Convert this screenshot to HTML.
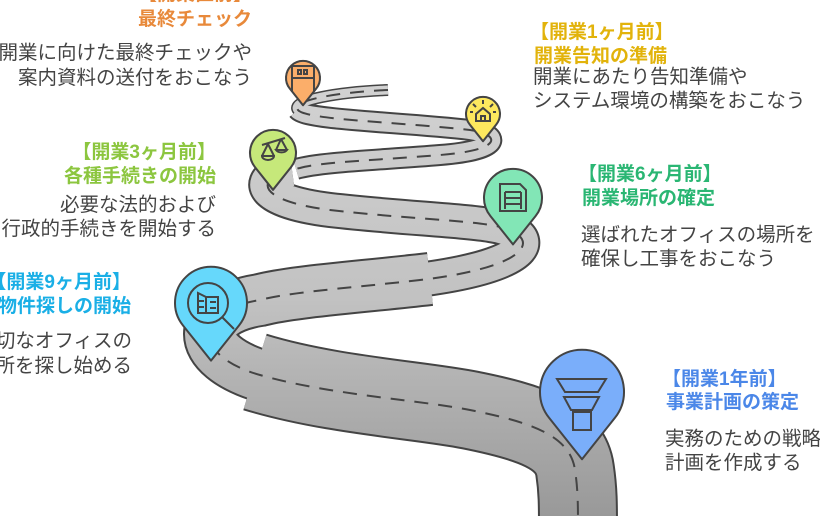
<!DOCTYPE html>
<html><head><meta charset="utf-8"><style>
html,body{margin:0;padding:0;background:#fff;width:820px;height:516px;overflow:hidden}
svg{display:block}
text{font-family:"Liberation Sans","Noto Sans CJK JP",sans-serif}
.h{font-size:19px;font-weight:bold}
.d{font-size:19.5px;fill:#444}
</style></head><body>
<svg width="820" height="516" viewBox="0 0 820 516">
<defs>
<linearGradient id="g" gradientUnits="userSpaceOnUse" x1="0" y1="80" x2="0" y2="516">
<stop offset="0" stop-color="#d2d2d2"/><stop offset="0.5" stop-color="#c2c2c2"/><stop offset="1" stop-color="#999"/>
</linearGradient>
<path id="pin" d="M0,1.6 L-0.78,0.62 A1,1 0 1 1 0.78,0.62 Z"/>
<path id="s4" d="M255,372 C330,395 420,400 470,410 C530,422 570,435 575,470 C578,490 578,505 578,530"/>
<path id="s3" d="M430,279 C350,288 290,292 260,300 C195,310 190,355 265,377"/>
<path id="s2" d="M292,170 C255,175 250,200 330,210 C400,218 460,220 490,225 C540,232 545,265 410,281"/>
<path id="s1" d="M298,110 C306,120 400,122 470,130 C500,134 505,150 440,155 C380,160 320,162 296,169"/>
<path id="s0" d="M388,90 C340,92 290,100 298,110 L299,112"/>
</defs>
<g fill="none" stroke-linejoin="round" stroke-linecap="butt" stroke="#444">
<use href="#s4" stroke-width="80"/>
<use href="#s3" stroke-width="54"/>
<use href="#s2" stroke-width="36"/>
<use href="#s1" stroke-width="22"/>
<use href="#s0" stroke-width="12"/>
</g>
<g fill="none" stroke-linejoin="round" stroke-linecap="butt" stroke="url(#g)">
<use href="#s4" stroke-width="76"/>
<use href="#s3" stroke-width="50"/>
<use href="#s2" stroke-width="32"/>
<use href="#s1" stroke-width="18"/>
<use href="#s0" stroke-width="9"/>
</g>
<path fill="none" d="M388,90 C340,92 290,100 298,110 C306,120 400,122 470,130 C500,134 505,150 440,155 C380,160 320,162 300,168 C255,175 250,200 330,210 C400,218 460,220 490,225 C540,232 545,265 420,280 C350,288 290,292 260,300 C195,310 190,355 260,375 C330,395 420,400 470,410 C530,422 570,435 575,470 C578,490 578,505 578,530" stroke="#444" stroke-width="2" stroke-dasharray="14 10"/>
<!-- pins -->
<g stroke="#444" stroke-linejoin="round">
<use href="#pin" transform="translate(303,78) scale(17)" fill="#fbae6a" style="stroke-width:0.12"/>
<use href="#pin" transform="translate(483,114) scale(17)" fill="#fde85e" style="stroke-width:0.12"/>
<use href="#pin" transform="translate(273,153) scale(23)" fill="#c6e87a" style="stroke-width:0.09"/>
<use href="#pin" transform="translate(513,198) scale(29)" fill="#82e6b6" style="stroke-width:0.07"/>
<use href="#pin" transform="translate(211,303) scale(36)" fill="#66d8fb" style="stroke-width:0.056"/>
<use href="#pin" transform="translate(582,392) scale(42)" fill="#7aaefa" style="stroke-width:0.048"/>
</g>
<!-- icons -->
<g fill="none" stroke="#444" stroke-width="2">
<rect x="292" y="66" width="22" height="12"/><line x1="292" y1="66" x2="292" y2="92"/><line x1="314" y1="66" x2="314" y2="92"/>
<rect x="298" y="70" width="3" height="4"/><rect x="304" y="70" width="3" height="4"/>
<path d="M476,121 V114 L483,108 L490,114 V121 Z M481,121 V116 H485 V121"/>
<path d="M473,104 l3,3 M483,100 v4 M493,104 l-3,3 M470,112 h3 M493,112 h3"/>
<path d="M262,145 L285,138 M268,144 L262,156 M268,144 L274,156 M262,156 a6,4 0 0 0 12,0 Z M281,139 L276,150 M281,139 L287,150 M276,150 a6,4 0 0 0 11,0 Z"/>
<path d="M500,184 H520 L526,190 V211 H500 Z M505,192 H521 M505,198 H521 M505,204 H521 M505,192 V209 M521,192 V209"/>
<circle cx="208" cy="303" r="20"/><line x1="222" y1="317" x2="234" y2="329"/>
<path d="M198,293 L206,297 V313 H198 Z M206,297 H218 V313 H206 M210,302 H216 M210,308 H216 M198,301 H204 M198,307 H204"/>
<path d="M557,379 H606 L598,392 H565 Z M564,397 H599 L592,410 H571 Z"/><rect x="573" y="412" width="18" height="18"/>
</g>
<!-- texts -->
<g text-anchor="end">
<text class="h" x="252" y="0" fill="#e8893a">【開業直前】</text>
<text class="h" x="252" y="25" fill="#e8893a">最終チェック</text>
<text class="d" x="252" y="59">開業に向けた最終チェックや</text>
<text class="d" x="252" y="84">案内資料の送付をおこなう</text>
<text class="h" x="216" y="158" fill="#8cc63f">【開業3ヶ月前】</text>
<text class="h" x="216" y="182" fill="#8cc63f">各種手続きの開始</text>
<text class="d" x="216" y="211">必要な法的および</text>
<text class="d" x="216" y="235">行政的手続きを開始する</text>
<text class="h" x="131" y="288" fill="#1aafe6">【開業9ヶ月前】</text>
<text class="h" x="131" y="312" fill="#1aafe6">物件探しの開始</text>
<text class="d" x="132" y="347">適切なオフィスの</text>
<text class="d" x="132" y="372">場所を探し始める</text>
</g>
<text class="h" x="530" y="38" fill="#e2b30b">【開業1ヶ月前】</text>
<text class="h" x="534" y="62" fill="#e2b30b">開業告知の準備</text>
<text class="d" x="533" y="83">開業にあたり告知準備や</text>
<text class="d" x="533" y="107">システム環境の構築をおこなう</text>
<text class="h" x="578" y="180" fill="#2ab673">【開業6ヶ月前】</text>
<text class="h" x="582" y="204" fill="#2ab673">開業場所の確定</text>
<text class="d" x="581" y="241">選ばれたオフィスの場所を</text>
<text class="d" x="581" y="265">確保し工事をおこなう</text>
<text class="h" x="662" y="385" fill="#4b87e8">【開業1年前】</text>
<text class="h" x="666" y="408" fill="#4b87e8">事業計画の策定</text>
<text class="d" x="665" y="445">実務のための戦略と</text>
<text class="d" x="665" y="469">計画を作成する</text>
</svg>
</body></html>
